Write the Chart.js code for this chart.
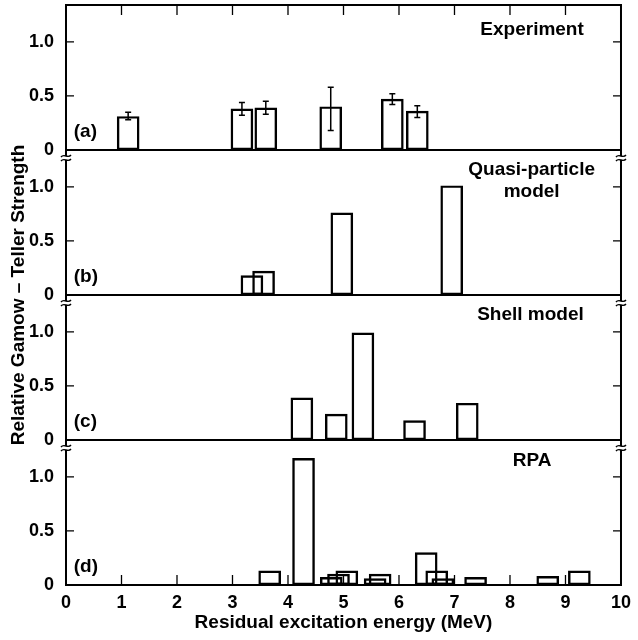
<!DOCTYPE html>
<html>
<head>
<meta charset="utf-8">
<script src="https://cdn.jsdelivr.net/npm/chart.js@4.4.1/dist/chart.umd.min.js"></script>
<style>
  html, body { margin: 0; padding: 0; background: #fff; }
  #wrap { width: 638px; height: 640px; }
</style>
</head>
<body>
<div id="wrap"><canvas id="gtChart" width="638" height="640"></canvas></div>
<script>
// Residual excitation energy (MeV) and relative GT strength
const expEnergy = [1.12, 3.17, 3.60, 4.77, 5.88, 6.33];
const expStrength = [0.31, 0.38, 0.39, 0.40, 0.47, 0.36];
const expErrUp = [0.04, 0.06, 0.06, 0.18, 0.05, 0.05];
const expErrDown = [0.03, 0.06, 0.06, 0.22, 0.05, 0.06];

const qpEnergy = [3.35, 3.56, 4.97, 6.95];
const qpStrength = [0.18, 0.22, 0.76, 1.01];

const shellEnergy = [4.25, 4.87, 5.35, 6.28, 7.23];
const shellStrength = [0.39, 0.24, 0.99, 0.18, 0.34];

const rpaEnergy = [3.67, 4.28, 4.78, 4.91, 5.06, 5.57, 5.66, 6.49, 6.68, 6.79, 7.38, 8.68, 9.25];
const rpaStrength = [0.13, 1.17, 0.07, 0.10, 0.13, 0.06, 0.10, 0.30, 0.13, 0.06, 0.07, 0.08, 0.13];

const xTicks = [0, 1, 2, 3, 4, 5, 6, 7, 8, 9, 10];
const yTicks = [0, 0.5, 1.0];

const FONT = "'Liberation Sans', Arial, Helvetica, sans-serif";
Chart.defaults.font.family = FONT;
Chart.defaults.color = "#000";

// one entry per stacked panel, top to bottom
const panels = [
  { id: "yA", energy: expEnergy, strength: expStrength, tag: "(a)",
    title: [{ text: "Experiment", x: 9.33, y: 1.11, align: "right" }] },
  { id: "yB", energy: qpEnergy, strength: qpStrength, tag: "(b)",
    title: [{ text: "Quasi-particle", x: 8.39, y: 1.16, align: "center" },
            { text: "model", x: 8.39, y: 0.95, align: "center" }] },
  { id: "yC", energy: shellEnergy, strength: shellStrength, tag: "(c)",
    title: [{ text: "Shell model", x: 9.33, y: 1.16, align: "right" }] },
  { id: "yD", energy: rpaEnergy, strength: rpaStrength, tag: "(d)",
    title: [{ text: "RPA", x: 8.40, y: 1.15, align: "center" }] },
];

function panelAxis(weight) {
  return {
    type: "linear",
    position: "left",
    stack: "panels",
    stackWeight: 1,
    weight: weight,
    min: 0,
    max: 1.34,
    grid: { display: false, drawTicks: false },
    border: { display: false },
    ticks: {
      padding: 12,
      color: "#000",
      font: { size: 18, weight: "bold" },
      callback: function (v) {
        return v === 0 ? "0" : v.toFixed(1);
      },
    },
    afterBuildTicks: function (s) {
      s.ticks = yTicks.map(function (v) { return { value: v }; });
    },
    afterFit: function (s) {
      s.width = 40;
      s.paddingTop = 0;
      s.paddingBottom = 0;
    },
  };
}

// frame, inward ticks, error bars, axis breaks and panel texts
const decorPlugin = {
  id: "panelDecor",
  afterDatasetsDraw: function (chart) {
    const ctx = chart.ctx;
    const xs = chart.scales.x;
    const area = chart.chartArea;
    ctx.save();
    ctx.strokeStyle = "#000";
    ctx.fillStyle = "#000";

    // error bars (experiment)
    const yA = chart.scales.yA;
    ctx.lineWidth = 1.5;
    expEnergy.forEach(function (e, i) {
      const px = xs.getPixelForValue(e);
      const top = yA.getPixelForValue(expStrength[i] + expErrUp[i]);
      const bot = yA.getPixelForValue(expStrength[i] - expErrDown[i]);
      ctx.beginPath();
      ctx.moveTo(px, top); ctx.lineTo(px, bot);
      ctx.moveTo(px - 3, top); ctx.lineTo(px + 3, top);
      ctx.moveTo(px - 3, bot); ctx.lineTo(px + 3, bot);
      ctx.stroke();
    });

    // outer frame and baselines
    ctx.lineWidth = 2;
    ctx.strokeRect(area.left, area.top, area.right - area.left, area.bottom - area.top);
    panels.forEach(function (p) {
      const y0 = chart.scales[p.id].getPixelForValue(0);
      ctx.beginPath();
      ctx.moveTo(area.left, y0); ctx.lineTo(area.right, y0);
      ctx.stroke();
    });

    // inward ticks
    ctx.lineWidth = 1.3;
    panels.forEach(function (p) {
      const ys = chart.scales[p.id];
      yTicks.forEach(function (v) {
        if (v === 0) return;
        const py = ys.getPixelForValue(v);
        ctx.beginPath();
        ctx.moveTo(area.left, py); ctx.lineTo(area.left + 8, py);
        ctx.moveTo(area.right, py); ctx.lineTo(area.right - 8, py);
        ctx.stroke();
      });
    });
    xTicks.forEach(function (v) {
      if (v === 0 || v === 10) return;
      const px = xs.getPixelForValue(v);
      ctx.beginPath();
      ctx.moveTo(px, area.top); ctx.lineTo(px, area.top + 10);
      ctx.moveTo(px, area.bottom); ctx.lineTo(px, area.bottom - 10);
      ctx.stroke();
    });

    // axis break marks at the top of panels b-d
    function breakMark(cx, cy) {
      ctx.fillStyle = "#fff";
      ctx.fillRect(cx - 3, cy - 2, 6, 4);
      ctx.lineWidth = 1.4;
      [-2, 2].forEach(function (dy) {
        ctx.beginPath();
        ctx.moveTo(cx - 5, cy + dy + 1);
        ctx.bezierCurveTo(cx - 2, cy + dy - 3, cx + 2, cy + dy + 3, cx + 5, cy + dy - 1);
        ctx.stroke();
      });
    }
    panels.slice(1).forEach(function (p) {
      const cy = chart.scales[p.id].top + 8;
      breakMark(area.left, cy);
      breakMark(area.right, cy);
    });

    // panel texts
    ctx.fillStyle = "#000";
    ctx.textBaseline = "middle";
    ctx.font = "bold 19px " + FONT;
    panels.forEach(function (p) {
      const ys = chart.scales[p.id];
      ctx.textAlign = "left";
      ctx.fillText(p.tag, xs.getPixelForValue(0.14), ys.getPixelForValue(0.17));
      p.title.forEach(function (t) {
        ctx.textAlign = t.align;
        ctx.fillText(t.text, xs.getPixelForValue(t.x), ys.getPixelForValue(t.y));
      });
    });
    ctx.restore();
  },
};

const scales = {
  x: {
    type: "linear",
    min: 0,
    max: 10,
    offset: false,
    grid: { display: false, drawTicks: false, offset: false },
    border: { display: false },
    afterBuildTicks: function (s) {
      s.ticks = xTicks.map(function (v) { return { value: v }; });
    },
    ticks: {
      padding: 7,
      color: "#000",
      font: { size: 18, weight: "bold" },
      callback: function (v) { return String(v); },
    },
    title: {
      display: true,
      text: "Residual excitation energy (MeV)",
      color: "#000",
      font: { size: 19, weight: "bold" },
      padding: { top: 0, bottom: 6 },
    },
    afterFit: function (s) { s.height = 55; },
  },
  yTitle: {
    type: "linear",
    position: "left",
    weight: 10,
    grid: { display: false, drawTicks: false },
    border: { display: false },
    ticks: { display: false },
    title: {
      display: true,
      text: "Relative Gamow – Teller Strength",
      color: "#000",
      font: { size: 19, weight: "bold" },
      padding: { top: 7, bottom: 0 },
    },
    afterFit: function (s) { s.width = 26; },
  },
  yA: panelAxis(4),
  yB: panelAxis(3),
  yC: panelAxis(2),
  yD: panelAxis(1),
};

const ctx = document.getElementById("gtChart").getContext("2d");
const gtChart = new Chart(ctx, {
  type: "bar",
  data: {
    datasets: panels.map(function (p) {
      return {
        label: p.tag,
        yAxisID: p.id,
        data: p.energy.map(function (e, i) { return { x: e, y: p.strength[i] }; }),
        backgroundColor: "rgba(0,0,0,0)",
        borderColor: "#000",
        borderWidth: 1.8,
        borderSkipped: false,
        barThickness: 22,
        grouped: false,
      };
    }),
  },
  options: {
    responsive: false,
    animation: false,
    devicePixelRatio: 1,
    layout: { padding: { top: 5, right: 11, left: 0, bottom: 0 } },
    plugins: {
      legend: { display: false },
      tooltip: { enabled: false },
    },
    scales: scales,
  },
  plugins: [decorPlugin],
});
</script>
</body>
</html>
